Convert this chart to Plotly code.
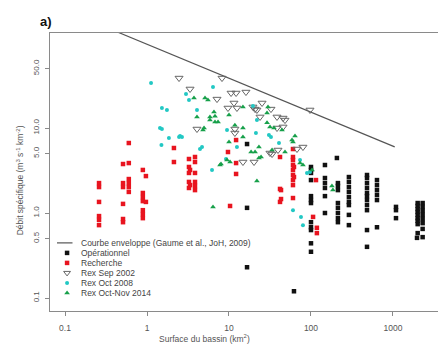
import plotly.graph_objects as go

# ---------------- data ----------------
env_area = [0.45, 1050]
env_q = [133, 6.0]

op_area = ([16.6]*3 + [207] + [148]*6 + [100]*12 + [213]*8 + [290]*9 + [482]*11 + [638]*6
           + [1088]*3 + [2000]*9 + [2300]*8 + [1963, 62])
op_q = ([6.48, 1.15, 0.23] + [4.44] + [3.67, 2.58, 2.25, 1.97, 1.58, 1.0]
        + [3.48, 3.21, 2.96, 2.44, 1.58, 1.42, 1.31, 0.78, 0.68, 0.63, 0.44, 0.35]
        + [2.25, 2.08, 1.86, 1.31, 1.15, 1.0, 0.87, 0.78]
        + [2.65, 2.32, 2.02, 1.77, 1.54, 1.35, 1.24, 0.95, 0.72]
        + [2.80, 2.58, 2.25, 1.97, 1.72, 1.58, 1.42, 1.24, 1.08, 0.63, 0.40]
        + [2.44, 2.13, 1.86, 1.63, 1.42, 0.68]
        + [1.18, 1.08, 0.87]
        + [1.31, 1.21, 1.11, 1.03, 0.95, 0.87, 0.81, 0.74, 0.58]
        + [1.31, 1.18, 1.06, 0.95, 0.85, 0.76, 0.65, 0.52]
        + [0.51, 0.12])

re_area = ([0.26]*6 + [0.51]*6 + [0.60]*6 + [0.89]*7 + [0.97]*2 + [2.13]*2 + [3.25]*5
           + [3.35]*2 + [3.85]*6 + [9.72] + [12.2]*3 + [10.3] + [41.9]*3 + [43.1]*2
           + [60.3]*9 + [62]*2 + [115, 106, 118, 118])
re_q = ([2.25, 2.02, 1.35, 0.92, 0.83, 0.72]
        + [3.77, 2.25, 2.02, 1.28, 0.85, 0.78]
        + [6.66, 3.87, 2.51, 2.25, 2.02, 1.77]
        + [3.21, 1.72, 1.54, 1.38, 1.08, 0.97, 0.87]
        + [2.72, 1.35]
        + [5.82, 3.98]
        + [4.32, 3.48, 2.96, 2.32, 1.97]
        + [3.21, 2.13]
        + [4.56, 3.98, 2.96, 2.32, 2.08, 1.86]
        + [5.22]
        + [7.22, 3.87, 2.88]
        + [1.21]
        + [4.56, 1.92, 1.35]
        + [1.86, 1.46]
        + [5.66, 4.56, 4.20, 3.67, 3.21, 2.80, 2.44, 2.13, 1.50]
        + [3.48, 2.65]
        + [2.44, 0.90, 0.67, 0.58])

sep02_area = [2.46, 8.22, 3.35, 10.6, 12.2, 16.1, 7.14, 11.5, 12.5, 9.72, 19.6, 25.3, 21.9,
              32.5, 23.9, 38.5, 48.2, 45.6, 4.07, 11.8, 14.8, 20.2, 39.6, 33.5, 67.5, 79.8,
              97.2, 20.8, 45.6, 38.5, 31.6, 11.8]
sep02_q = [38.7, 38.7, 28.8, 25.8, 25.8, 26.5, 21.9, 19.7, 17.2, 17.2, 17.7, 19.7, 16.3,
           16.7, 13.5, 13.5, 12.4, 10.3, 9.73, 9.73, 3.98, 3.98, 5.51, 4.94, 5.66, 5.97,
           16.3, 16.7, 13.1, 10.0, 5.08, 8.73]

oct08_area = [1.12, 2.99, 3.25, 1.52, 1.75, 6.38, 4.07, 1.44, 1.52, 1.85, 2.46, 2.67, 1.50,
              4.43, 4.69, 6.21, 9.19, 12.5, 19.6, 21.9, 32.5, 2.53, 9.46, 21.3, 30.7, 40.7,
              60.3, 75.5, 79.8, 89.4, 73.5, 97.2]
oct08_q = [33.8, 25.1, 21.4, 17.2, 16.3, 30.4, 16.3, 10.0, 9.73, 7.63, 7.84, 7.84, 6.31,
           5.66, 5.97, 3.21, 4.32, 5.97, 18.1, 12.4, 7.84, 8.05, 9.47, 8.73, 8.27, 6.66,
           1.08, 0.90, 0.72, 2.96, 4.20, 3.04]

oct14_area = [3.74, 5.10, 5.54, 4.07, 6.56, 5.86, 5.86, 6.75, 6.75, 7.35, 10.0, 11.8, 14.8,
              14.8, 4.82, 4.96, 10.0, 14.8, 44.3, 35.4, 31.6, 58.7, 48.2, 24.6, 20.8, 33.5,
              7.77, 10.3, 23.2, 18.6, 6.38, 21.9, 7.99, 9.46, 63.8, 73.5, 29.1, 29.9, 29.1,
              60.3, 79.8, 103, 180, 185, 23.2]
oct14_q = [22.5, 22.5, 21.4, 13.5, 15.4, 13.5, 12.4, 13.8, 11.8, 11.8, 14.2, 10.8, 10.0,
           7.84, 9.47, 10.0, 6.84, 17.7, 9.47, 10.0, 10.3, 7.22, 5.22, 4.56, 5.22, 5.51,
           3.67, 3.98, 5.97, 5.22, 1.18, 2.38, 3.77, 4.20, 8.05, 3.87, 15.0, 17.7, 11.5,
           6.84, 3.67, 3.21, 2.08, 1.86, 4.44]

x_tickvals = [0.1, 1, 10, 100, 1000]
x_ticktext = ["0.1", "1", "10", "100", "1000"]
y_tickvals = [0.1, 0.5, 1, 5, 10, 50]
y_ticktext = ["0.1", "0.5", "1.0", "5.0", "10.0", "50.0"]

series_names = ["Courbe enveloppe (Gaume et al., JoH, 2009)", "Opérationnel", "Recherche",
                "Rex Sep 2002", "Rex Oct 2008", "Rex Oct-Nov 2014"]
x_title = "Surface du bassin (km<sup>2</sup>)"
y_title = "Débit spécifique (m<sup>3</sup> s<sup>-1</sup> km<sup>-2</sup>)"

# ---------------- styles ----------------
RED = "#e8141f"
CYAN = "#22c8c4"
GREEN = "#17a04a"
BLACK = "#111111"
AX = "#8a8a8a"
TXT = "#555555"
FONT = "Liberation Sans, Arial, sans-serif"

sq = dict(symbol="square", size=4.5)

fig = go.Figure()
fig.add_trace(go.Scatter(x=env_area, y=env_q, mode="lines",
                         line=dict(color="#555555", width=1.2), name=series_names[0]))
fig.add_trace(go.Scatter(x=op_area, y=op_q, mode="markers",
                         marker=dict(color=BLACK, **sq), name=series_names[1]))
fig.add_trace(go.Scatter(x=re_area, y=re_q, mode="markers",
                         marker=dict(color=RED, **sq), name=series_names[2]))
fig.add_trace(go.Scatter(x=sep02_area, y=sep02_q, mode="markers",
                         marker=dict(symbol="triangle-down-open", size=7,
                                     color="#666666", line=dict(width=1)),
                         name=series_names[3]))
fig.add_trace(go.Scatter(x=oct08_area, y=oct08_q, mode="markers",
                         marker=dict(symbol="circle", size=4, color=CYAN),
                         name=series_names[4]))
fig.add_trace(go.Scatter(x=oct14_area, y=oct14_q, mode="markers",
                         marker=dict(symbol="triangle-up", size=5, color=GREEN),
                         name=series_names[5]))

# custom compact legend (R style) on a hidden overlay axis in [0, 1]
leg_rows = [0.245, 0.209, 0.173, 0.137, 0.101, 0.065]
leg_sym_x = 0.044
leg_styles = [None,
              dict(symbol="square", size=4.5, color=BLACK),
              dict(symbol="square", size=4.5, color=RED),
              dict(symbol="triangle-down-open", size=6, color="#666666", line=dict(width=1)),
              dict(symbol="circle", size=4, color=CYAN),
              dict(symbol="triangle-up", size=5, color=GREEN)]
fig.add_trace(go.Scatter(x=[0.018, 0.058], y=[leg_rows[0]]*2, mode="lines",
                         line=dict(color="#555555", width=1.2),
                         xaxis="x2", yaxis="y2", hoverinfo="skip"))
for r, st in zip(leg_rows[1:], leg_styles[1:]):
    fig.add_trace(go.Scatter(x=[leg_sym_x], y=[r], mode="markers", marker=st,
                             xaxis="x2", yaxis="y2", hoverinfo="skip"))
for r, name in zip(leg_rows, series_names):
    fig.add_annotation(x=0.075, y=r, xref="paper", yref="paper", text=name,
                       showarrow=False, xanchor="left", yanchor="middle",
                       font=dict(size=8.5, color="#444444", family=FONT))

fig.add_annotation(x=-0.03, y=1.0, xref="paper", yref="paper", text="<b>a)</b>",
                   showarrow=False, xanchor="left", yanchor="bottom", yshift=2,
                   font=dict(size=13, color="#111111", family=FONT))
# axis titles (R places them at fixed offsets)
fig.add_annotation(x=0.397, y=0, xref="paper", yref="paper", text=x_title,
                   showarrow=False, xanchor="center", yanchor="middle", yshift=-27,
                   font=dict(size=8.5, color=TXT, family=FONT))
fig.add_annotation(x=0, y=0.47, xref="paper", yref="paper", text=y_title,
                   showarrow=False, xanchor="center", yanchor="middle", xshift=-30,
                   textangle=-90, font=dict(size=8.5, color=TXT, family=FONT))

fig.update_layout(
    width=438, height=347,
    margin=dict(l=50, r=0, t=33, b=36),
    paper_bgcolor="white", plot_bgcolor="white",
    showlegend=False,
    font=dict(family=FONT, color=TXT, size=8),
    xaxis=dict(type="log", range=[-1.183, 3.549], tickvals=x_tickvals, ticktext=x_ticktext,
               showgrid=False, zeroline=False, showline=True, linecolor=AX, linewidth=1,
               mirror=True, ticks="outside", ticklen=4, tickcolor=AX,
               ticklabelstandoff=5,
               tickfont=dict(size=8.5, color=TXT)),
    yaxis=dict(type="log", range=[-1.153, 2.118], tickvals=y_tickvals, ticktext=y_ticktext,
               showgrid=False, zeroline=False, showline=True, linecolor=AX, linewidth=1,
               mirror=True, ticks="outside", ticklen=4, tickcolor=AX, tickangle=-90,
               ticklabelstandoff=3,
               tickfont=dict(size=8, color=TXT)),
    xaxis2=dict(overlaying="x", range=[0, 1], visible=False, fixedrange=True),
    yaxis2=dict(overlaying="y", range=[0, 1], visible=False, fixedrange=True),
)

fig.write_html("out.html", config={"displayModeBar": False},
               post_script="document.body.style.margin='0';document.body.style.padding='0';")
